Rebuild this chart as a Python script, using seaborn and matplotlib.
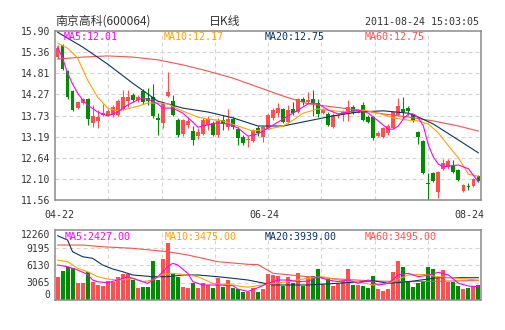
import matplotlib
matplotlib.use("Agg")
import matplotlib.pyplot as plt
import numpy as np
import pandas as pd
import seaborn as sns

# ---------------- data ----------------
title_name = "南京高科(600064)"
title_kind = "日K线"
title_time = "2011-08-24 15:03:05"
date_labels = ["04-22", "06-24", "08-24"]

opens = [15.23, 15.54, 14.87, 14.36, 13.92, 14.05, 14.15, 13.54, 13.59, 13.74,
         13.74, 13.74, 13.74, 13.90, 14.10, 14.26, 14.13, 14.36, 14.18, 14.20,
         13.67, 13.54, 14.23, 14.10, 13.61, 13.26, 13.49, 13.33, 13.20, 13.26,
         13.49, 13.54, 13.23, 13.61, 13.43, 13.64, 13.38, 13.18, 13.10, 13.08,
         13.41, 13.18, 13.41, 13.67, 13.79, 13.90, 13.56, 13.90, 13.82, 14.15,
         14.08, 14.15, 14.05, 13.79, 13.77, 13.43, 13.72, 13.74, 13.77, 13.95,
         13.79, 14.00, 13.69, 13.69, 13.20, 13.18, 13.28, 13.41, 13.74, 13.90,
         13.92, 13.74, 13.31, 13.08, 12.00, 12.25, 11.77, 12.36, 12.41, 12.46,
         12.33, 11.79, 11.92, 11.92, 12.18]
closes = [15.46, 14.92, 14.20, 13.87, 14.08, 14.15, 13.64, 13.72, 13.69, 13.79,
          13.85, 13.95, 14.10, 14.20, 14.20, 14.13, 14.20, 14.08, 14.10, 13.72,
          13.61, 14.03, 14.33, 13.74, 13.23, 13.61, 13.59, 13.10, 13.31, 13.61,
          13.64, 13.23, 13.59, 13.51, 13.64, 13.43, 13.15, 13.02, 13.13, 13.36,
          13.28, 13.43, 13.74, 13.87, 13.92, 13.56, 13.87, 13.79, 14.15, 14.08,
          14.13, 14.05, 13.77, 13.87, 13.49, 13.74, 13.74, 13.82, 13.95, 13.79,
          13.85, 13.61, 13.56, 13.15, 13.28, 13.41, 13.46, 13.82, 13.97, 13.82,
          13.85, 13.61, 13.18, 12.25, 11.97, 12.05, 12.28, 12.51, 12.56, 12.28,
          12.07, 11.95, 11.89, 12.10, 12.05]
highs = [15.54, 15.57, 14.90, 14.38, 14.10, 14.18, 14.18, 14.00, 13.87, 14.03,
         13.90, 14.00, 14.15, 14.38, 14.38, 14.31, 14.26, 14.41, 14.44, 14.54,
         13.79, 14.08, 14.85, 14.26, 13.67, 13.64, 13.69, 13.46, 13.41, 13.67,
         13.72, 13.59, 13.67, 13.74, 13.90, 13.69, 13.43, 13.23, 13.20, 13.38,
         13.46, 13.46, 13.77, 13.92, 14.05, 13.92, 14.00, 14.08, 14.18, 14.20,
         14.33, 14.38, 14.15, 13.92, 13.82, 13.79, 13.79, 13.87, 14.13, 14.00,
         13.90, 14.08, 13.74, 13.72, 13.33, 13.43, 13.51, 13.85, 14.18, 14.20,
         13.97, 13.77, 13.33, 13.10, 12.25, 12.28, 12.30, 12.61, 12.61, 12.59,
         12.36, 11.97, 12.00, 12.13, 12.20]
lows = [15.18, 14.90, 14.15, 13.85, 13.90, 14.03, 13.49, 13.43, 13.41, 13.72,
        13.72, 13.69, 13.72, 13.87, 13.95, 14.08, 14.08, 14.03, 14.00, 13.67,
        13.23, 13.41, 14.20, 13.72, 13.18, 13.20, 13.41, 12.97, 13.13, 13.23,
        13.36, 13.20, 13.18, 13.36, 13.36, 13.38, 12.97, 12.97, 12.92, 13.05,
        13.20, 13.05, 13.38, 13.61, 13.69, 13.54, 13.54, 13.74, 13.79, 14.00,
        14.05, 13.72, 13.69, 13.77, 13.46, 13.41, 13.67, 13.59, 13.59, 13.77,
        13.79, 13.59, 13.54, 13.10, 13.18, 13.15, 13.23, 13.38, 13.72, 13.67,
        13.74, 13.56, 13.00, 12.23, 11.56, 12.02, 11.61, 12.33, 12.36, 12.25,
        12.05, 11.77, 11.82, 11.89, 12.02]
volumes = [4080, 5080, 5720, 5660, 2920, 3030, 4960, 3210, 2630, 2450,
           3330, 3210, 4080, 4490, 4490, 3500, 2160, 2330, 2330, 6830,
           3500, 7180, 9930, 4490, 4080, 2330, 2160, 3030, 2160, 3030,
           2630, 2160, 3800, 2330, 3500, 2160, 1930, 1400, 1460, 2160,
           1350, 2000, 4490, 4380, 4200, 2510, 4030, 2920, 4730, 2510,
           4030, 4200, 5430, 2740, 3620, 2450, 2740, 3330, 5430, 2630,
           2630, 2450, 2160, 4200, 1930, 1580, 1930, 4840, 6830, 5780,
           3330, 2280, 2920, 3330, 5780, 5490, 3910, 5250, 3150, 3150,
           2510, 1930, 2040, 2500, 2570]

# moving-average lines (candle index, value)
ma5_idx = [0, 1, 2, 3, 4, 5, 6, 8, 10, 12, 14, 16, 17, 19, 20, 21, 23, 25, 27, 28,
           30, 32, 34, 36, 38, 40, 42, 44, 46, 48, 50, 51, 52, 54, 56, 58, 60, 62, 64, 66,
           67, 68, 69, 70, 71, 72, 73, 74, 75, 76, 77, 78, 80, 82, 84]
ma5_val = [15.49, 15.21, 14.82, 14.54, 14.31, 14.13, 14.00, 13.82, 13.72, 13.82,
           14.00, 14.13, 14.18, 14.10, 14.03, 13.92, 13.92, 13.79, 13.56, 13.43,
           13.49, 13.54, 13.51, 13.41, 13.20, 13.26, 13.41, 13.56, 13.72, 13.87,
           14.03, 14.05, 14.03, 13.87, 13.77, 13.82, 13.87, 13.79, 13.59, 13.38,
           13.38, 13.46, 13.64, 13.77, 13.77, 13.67, 13.46, 12.97, 12.66, 12.48,
           12.41, 12.43, 12.46, 12.36, 12.02]
ma10_idx = [0, 2, 4, 6, 8, 10, 12, 14, 16, 18, 20, 22, 24, 26, 28, 30, 33, 36, 39, 42,
            45, 47, 49, 52, 55, 58, 61, 64, 67, 70, 72, 74, 76, 78, 80, 82, 84]
ma10_val = [15.59, 15.46, 15.21, 14.64, 14.20, 13.92, 13.85, 13.90, 13.97, 14.05,
            14.05, 14.03, 13.90, 13.79, 13.69, 13.64, 13.59, 13.46, 13.33, 13.38,
            13.46, 13.61, 13.79, 13.90, 13.85, 13.82, 13.87, 13.79, 13.67, 13.61,
            13.59, 13.51, 13.28, 12.95, 12.64, 12.22, 12.17]
ma20_idx = [0, 5, 10, 15, 20, 25, 30, 35, 40, 45, 50, 55, 60, 65, 70, 72, 75, 80, 84]
ma20_val = [15.87, 15.49, 15.05, 14.56, 14.10, 13.92, 13.82, 13.67, 13.46, 13.46,
            13.59, 13.72, 13.82, 13.85, 13.79, 13.69, 13.51, 13.10, 12.77]
ma60_idx = [0, 5, 10, 15, 20, 25, 30, 35, 40, 45, 50, 55, 60, 65, 70, 75, 80, 84]
ma60_val = [15.18, 15.23, 15.26, 15.23, 15.16, 15.03, 14.87, 14.69, 14.46, 14.23,
            14.03, 13.95, 13.87, 13.77, 13.69, 13.59, 13.46, 13.33]

vma5_idx = [0, 2, 4, 6, 7, 8, 10, 12, 14, 16, 18, 20, 22, 23, 24, 26, 27, 29, 32, 35,
            36, 38, 40, 42, 44, 46, 48, 50, 52, 54, 56, 58, 60, 62, 64, 66, 68, 70, 72, 74,
            76, 78, 80, 82, 84]
vma5_val = [6130, 5840, 5250, 4490, 3500, 3210, 3030, 3500, 4080, 3500,
            2920, 4080, 5840, 6420, 6130, 4670, 3210, 2630, 2630, 2500,
            1900, 1500, 2160, 2920, 3500, 3500, 3210, 3300, 4080, 3500,
            3210, 3500, 2920, 3500, 2630, 2920, 4380, 4670, 4080, 4380,
            4850, 4380, 2920, 2450, 2330]
vma10_idx = [0, 2, 4, 6, 8, 10, 12, 15, 17, 19, 21, 23, 26, 28, 31, 35, 37, 38, 41, 46,
             50, 53, 56, 60, 63, 66, 70, 73, 76, 80, 84]
vma10_val = [7000, 6710, 5550, 4960, 4080, 3680, 3500, 3800, 3210, 3500,
             4490, 4670, 4380, 4080, 2920, 2630, 2330, 2250, 2630, 3210,
             3800, 4080, 3500, 3210, 2630, 2920, 4380, 4490, 4080, 3800, 3475]
vma20_idx = [0, 2, 3, 5, 7, 9, 11, 13, 15, 19, 22, 25, 28, 32, 35, 37, 38, 43, 50, 56,
             63, 66, 70, 76, 84]
vma20_val = [11260, 10510, 8460, 7580, 7300, 6130, 5430, 4960, 4380, 4080,
             4080, 4380, 4380, 4080, 3800, 3600, 3500, 2630, 2630, 2920,
             3380, 2920, 3210, 3910, 3900]
vma60_idx = [0, 5, 9, 15, 22, 26, 32, 38, 40, 43, 50, 56, 63, 70, 84]
vma60_val = [9630, 9630, 9330, 9050, 8460, 7880, 6710, 6250, 6200, 4680,
             4080, 3680, 3330, 3210, 3400]

price_ticks = ["15.90", "15.36", "14.81", "14.27", "13.73", "13.19", "12.64", "12.10", "11.56"]
vol_ticks = ["12260", "9195", "6130", "3065", "0"]

ma_labels = ["MA5:12.01", "MA10:12.17", "MA20:12.75", "MA60:12.75"]
vma_labels = ["MA5:2427.00", "MA10:3475.00", "MA20:3939.00", "MA60:3495.00"]

# ---------------- style ----------------
RED = "#ff4f4f"
GREEN = "#008c00"
C_MA5 = "#ff00ff"
C_MA10 = "#ffa200"
C_MA20 = "#0b3563"
C_MA60 = "#ff5050"
GRID = "#d4d4d4"
BORDER = "#8a8a8a"
TXT = "#333333"

sns.set_style("white")
plt.rcParams["font.family"] = ["DejaVu Sans Mono", "Noto Sans CJK SC"]

W, H = 505, 330
fig = plt.figure(figsize=(W / 100, H / 100), dpi=100)
fig.patch.set_facecolor("white")

def fx(px):
    return px / W

def fy(py):
    return 1 - py / H

L, R = 55, 481
ax = fig.add_axes([fx(L), fy(200), (R - L) / W, (200 - 31) / H])
axv = fig.add_axes([fx(L), fy(300), (R - L) / W, (300 - 230) / H])

df = pd.DataFrame({"open": opens, "close": closes, "high": highs, "low": lows, "vol": volumes})
df["x"] = np.arange(len(df))
up = df["close"] >= df["open"]
colors = np.where(up, RED, GREEN)
n = len(df)

for a in (ax, axv):
    a.set_xlim(-0.5, n - 0.5)
    for k in range(1, 8):
        a.axvline(-0.5 + n * k / 8, color=GRID, lw=0.8, ls=(0, (3.6, 2.7)), zorder=0)
    for s in a.spines.values():
        s.set_color(BORDER)
        s.set_linewidth(1.1)
    a.set_xticks([])
    a.tick_params(axis="y", length=0, labelsize=7, labelcolor=TXT, pad=3.5)

# price panel
pvals = [float(t) for t in price_ticks]
ax.set_ylim(min(pvals), max(pvals))
ax.set_yticks(pvals)
ax.set_yticklabels(price_ticks)
for v in pvals[1:-1]:
    ax.axhline(v, color=GRID, lw=0.8, ls=(0, (3.6, 2.7)), zorder=0)

ax.vlines(df["x"], df["low"], df["high"], colors=colors, lw=0.8, zorder=2)
body_bottom = np.minimum(df["open"], df["close"])
body_h = np.maximum((df["close"] - df["open"]).abs(), 0.022)
ax.bar(df["x"], body_h, bottom=body_bottom, width=0.78, color=colors, linewidth=0, zorder=3)

for idx, val, col in [(ma60_idx, ma60_val, C_MA60), (ma20_idx, ma20_val, C_MA20),
                      (ma10_idx, ma10_val, C_MA10), (ma5_idx, ma5_val, C_MA5)]:
    sns.lineplot(x=idx, y=val, ax=ax, color=col, linewidth=0.8, legend=False, zorder=4)
ax.set_xlim(-0.5, n - 0.5)
ax.set_xlabel("")
ax.set_ylabel("")

# volume panel
vvals = [float(t) for t in vol_ticks]
axv.set_ylim(0, max(vvals))
axv.set_yticks(vvals)
axv.set_yticklabels(vol_ticks)
for v in vvals[1:-1]:
    axv.axhline(v, color=GRID, lw=0.8, ls=(0, (3.6, 2.7)), zorder=0)
labs = axv.get_yticklabels()
labs[0].set_va("top")
labs[-1].set_va("bottom")
axv.bar(df["x"], df["vol"], width=0.8, color=colors, linewidth=0, zorder=2)
for idx, val, col in [(vma60_idx, vma60_val, C_MA60), (vma20_idx, vma20_val, C_MA20),
                      (vma10_idx, vma10_val, C_MA10), (vma5_idx, vma5_val, C_MA5)]:
    sns.lineplot(x=idx, y=val, ax=axv, color=col, linewidth=0.8, legend=False, zorder=4)
axv.set_xlim(-0.5, n - 0.5)
axv.set_xlabel("")
axv.set_ylabel("")

# texts
fig.text(fx(55), fy(21), title_name, ha="left", va="center", fontsize=8.6, color=TXT,
         family=["Noto Sans CJK SC", "DejaVu Sans"])
fig.text(fx(225), fy(21), title_kind, ha="center", va="center", fontsize=8.6, color=TXT,
         family=["Noto Sans CJK SC", "DejaVu Sans"])
fig.text(fx(479), fy(22), title_time, ha="right", va="center", fontsize=7.2, color=TXT)

ma_cols = [C_MA5, C_MA10, C_MA20, C_MA60]
for lab, col, px in zip(ma_labels, ma_cols, [64, 164, 265, 365]):
    fig.text(fx(px), fy(37), lab, ha="left", va="center", fontsize=7.2, color=col)
for lab, col, px in zip(vma_labels, ma_cols, [65, 165, 265, 365]):
    fig.text(fx(px), fy(237.5), lab, ha="left", va="center", fontsize=7.2, color=col)

for lab, px in zip(date_labels, [59, 264, 469]):
    fig.text(fx(px), fy(214.5), lab, ha="center", va="center", fontsize=7.2, color=TXT)

fig.savefig("out.png", dpi=100, facecolor="white")
